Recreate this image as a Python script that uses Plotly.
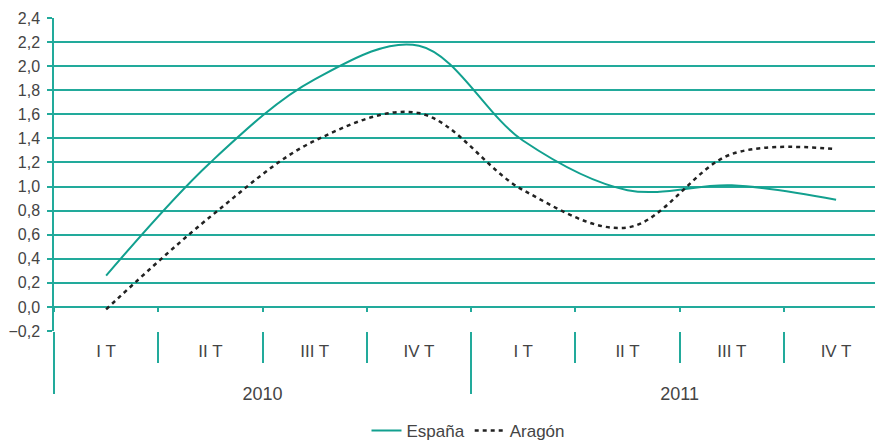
import plotly.graph_objects as go

years = ["2010", "2011"]
quarters = ["I T", "II T", "III T", "IV T", "I T", "II T", "III T", "IV T"]
periods = [f"{q} {years[i // 4]}" for i, q in enumerate(quarters)]
espana = [0.26, 1.20, 1.89, 2.17, 1.38, 0.97, 1.01, 0.89]
aragon = [-0.02, 0.75, 1.38, 1.61, 0.97, 0.66, 1.27, 1.31]

teal_grid = "#22aa9b"
teal_line = "#12a08f"
label_col = "#444444"
font_family = "Liberation Sans, Arial, sans-serif"

n = len(periods)
xrange = [-0.5, n - 0.55]
boundaries = [i - 0.5 for i in range(n)]
year_centers = [1.5, 5.5]
year_bounds = [-0.5, 3.5]

fig = go.Figure()
fig.add_trace(go.Scatter(
    x=periods, y=espana, name="España", mode="lines",
    line=dict(color=teal_line, width=2, shape="spline", smoothing=1.0),
))
fig.add_trace(go.Scatter(
    x=periods, y=aragon, name="Aragón", mode="lines",
    line=dict(color="#222222", width=2.5, dash="4px,4px", shape="spline", smoothing=1.0),
))
# helper (empty) traces so that the year axis and the zero-line tick axis are drawn
fig.add_trace(go.Scatter(x=year_centers, y=[None, None], xaxis="x2", yaxis="y",
                         mode="lines", showlegend=False, hoverinfo="skip"))
fig.add_trace(go.Scatter(x=boundaries, y=[None] * n, xaxis="x3", yaxis="y",
                         mode="lines", showlegend=False, hoverinfo="skip"))

plot_h = 313
bottom = 120
fig.update_layout(
    width=875, height=443,
    margin=dict(l=46, r=0, t=10, b=bottom),
    paper_bgcolor="white", plot_bgcolor="white",
    separators=",.",
    font=dict(family=font_family, size=17, color=label_col),
    showlegend=True,
    legend=dict(orientation="h", x=0.5, xanchor="center",
                y=-(441 - 323) / plot_h, yanchor="bottom",
                font=dict(size=17, color=label_col)),
    xaxis=dict(
        type="category", categoryorder="array", categoryarray=periods,
        range=xrange, automargin=False,
        tickvals=periods, ticktext=quarters,
        showgrid=False, zeroline=False, showline=False,
        ticks="outside", tickson="boundaries", ticklen=31, tickcolor=teal_grid, tickwidth=1.5,
        ticklabelstandoff=8,
        tickfont=dict(size=17, color=label_col),
    ),
    xaxis2=dict(
        overlaying="x", anchor="y", side="bottom",
        range=xrange, automargin=False,
        tickmode="array", tickvals=year_centers, ticktext=years,
        ticks="", ticklen=0, showgrid=False, zeroline=False, showline=False,
        ticklabelstandoff=50,
        tickfont=dict(size=18, color=label_col),
        minor=dict(tickmode="array", tickvals=year_bounds, ticks="outside",
                   ticklen=62, tickcolor=teal_grid, tickwidth=1.5, showgrid=False),
    ),
    xaxis3=dict(
        overlaying="x", anchor="free", position=0.2 / 2.6, side="bottom",
        range=xrange, automargin=False,
        tickmode="array", tickvals=boundaries, showticklabels=False,
        ticks="outside", ticklen=4, tickcolor=teal_grid, tickwidth=1.5,
        showgrid=False, zeroline=False, showline=False,
    ),
    yaxis=dict(
        range=[-0.2, 2.4], dtick=0.2, tick0=0, tickformat=".1f",
        automargin=False,
        showgrid=True, gridcolor=teal_grid, gridwidth=1.5,
        zeroline=False, showline=True, linecolor=teal_grid, linewidth=1.5,
        ticks="outside", ticklen=5, tickcolor=teal_grid, tickwidth=1.5,
        ticklabelstandoff=4,
        tickfont=dict(size=16, color=label_col),
    ),
)

fig.write_html("out.html")
